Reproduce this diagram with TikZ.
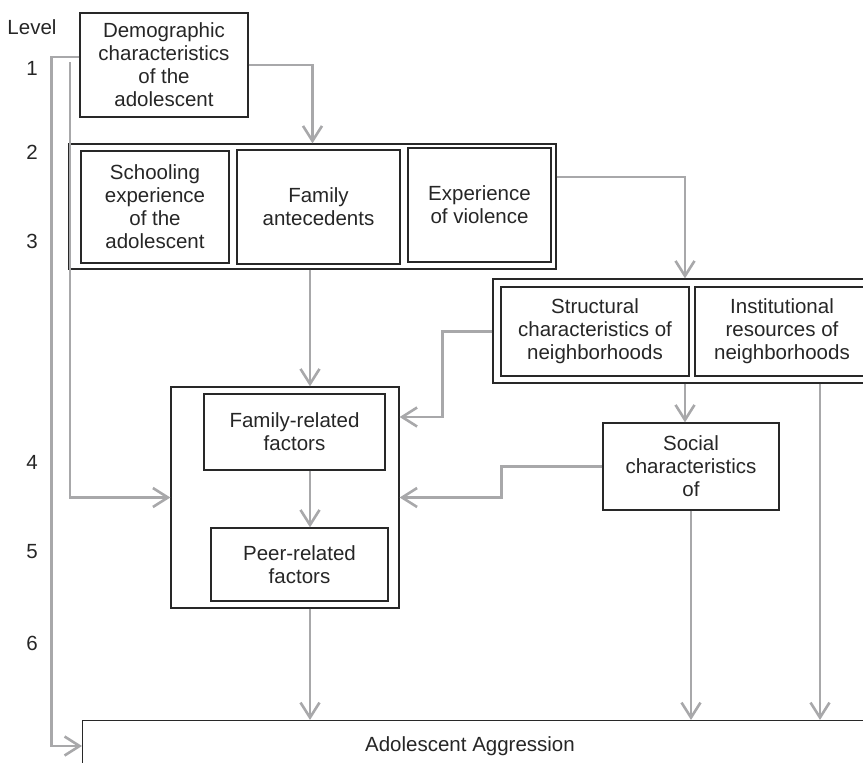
\documentclass[tikz,border=0pt]{standalone}
\usepackage{fontspec}
\setmainfont{Liberation Sans}
\usetikzlibrary{arrows.meta}
\definecolor{flowgray}{RGB}{168,168,170}
\definecolor{boxline}{RGB}{40,40,40}
\tikzset{
  box/.style={draw=boxline, line width=1.3pt, inner sep=0pt, align=center,
    text=black!85, font=\fontsize{20.5}{23}\selectfont},
  flow/.style={draw=flowgray, line width=2.6pt, -{Straight Barb[length=15pt,width=19pt]}},
  levtext/.style={text=black!85, font=\fontsize{20.5}{23}\selectfont}
}
\begin{document}
\begin{tikzpicture}[x=1pt, y=-1pt]
  \useasboundingbox (0,0) rectangle (863,763);
  \clip (0,0) rectangle (863,763);

  \node[levtext] (levhead) at (32,27) {Level};
  \foreach \n/\y in {1/68, 2/152, 3/241, 4/462, 5/552, 6/643}
    \node[levtext] (lev\n) at (32,\y) {\n};

  \node[box, minimum width=168pt, minimum height=104pt] (demo) at (164,65)
    {Demographic\\characteristics\\of the\\adolescent};

  \node[box, minimum width=487pt, minimum height=125pt] (grpB) at (312.5,206.5) {};
  \node[box, minimum width=148pt, minimum height=112pt] (school) at (155,207)
    {Schooling\\experience\\of the\\adolescent};
  \node[box, minimum width=163pt, minimum height=114pt] (famant) at (318.5,207)
    {Family\\antecedents};
  \node[box, minimum width=143pt, minimum height=114pt] (viol) at (479.5,205)
    {Experience\\of violence};

  \node[box, minimum width=384pt, minimum height=104pt] (grpC) at (685,331) {};
  \node[box, minimum width=188pt, minimum height=89pt] (struct) at (595,331.5)
    {Structural\\characteristics of\\neighborhoods};
  \node[box, minimum width=174pt, minimum height=89pt] (inst) at (782,331.5)
    {Institutional\\resources of\\neighborhoods};

  \node[box, minimum width=228pt, minimum height=221pt] (grpD) at (285,497.5) {};
  \node[box, minimum width=181pt, minimum height=76pt] (famrel) at (294.5,432)
    {Family-related\\factors};
  \node[box, minimum width=177pt, minimum height=73pt] (peer) at (299.5,564.5)
    {Peer-related\\factors};

  \node[box, minimum width=176pt, minimum height=87pt] (social) at (691,466.5)
    {Social\\characteristics\\of};

  \node[box, anchor=north west, minimum width=840pt, minimum height=80pt] (aggr) at (82,720) {};
  \node[levtext] (aggrtext) at (470,746) {Adolescent Aggression};

  \coordinate (col) at (310,0);
  \coordinate (branch) at (70,62);

  \draw[flow] (demo.east) -| (grpB.north);
  \draw[flow] ([yshift=29.5pt]grpB.east) -| (grpC.north);
  \draw[flow] (grpB.south -| col) -- (grpD.north -| col);
  \draw[flow] (grpC.west |- struct.west) -- ++(-50,0) |- ([yshift=80.5pt]grpD.east);
  \draw[flow] (grpC.south) -- (grpC.south |- social.north);
  \draw[flow] (social.west) -- ++(-101,0) |- (grpD.east);
  \draw[flow] (famrel.south -| col) -- (peer.north -| col);
  \draw[flow] (grpD.south -| col) -- (aggr.north -| col);
  \draw[flow] (social.south) -- (social.south |- aggr.north);
  \draw[flow] ([xshift=135pt]grpC.south) -- ([xshift=135pt]grpC.south |- aggr.north);
  \draw[flow] ([yshift=8pt]demo.west) -- ++(-28,0) |- (aggr.west |- aggrtext);
  \draw[flow] (branch) |- (grpD.west);
\end{tikzpicture}
\end{document}
